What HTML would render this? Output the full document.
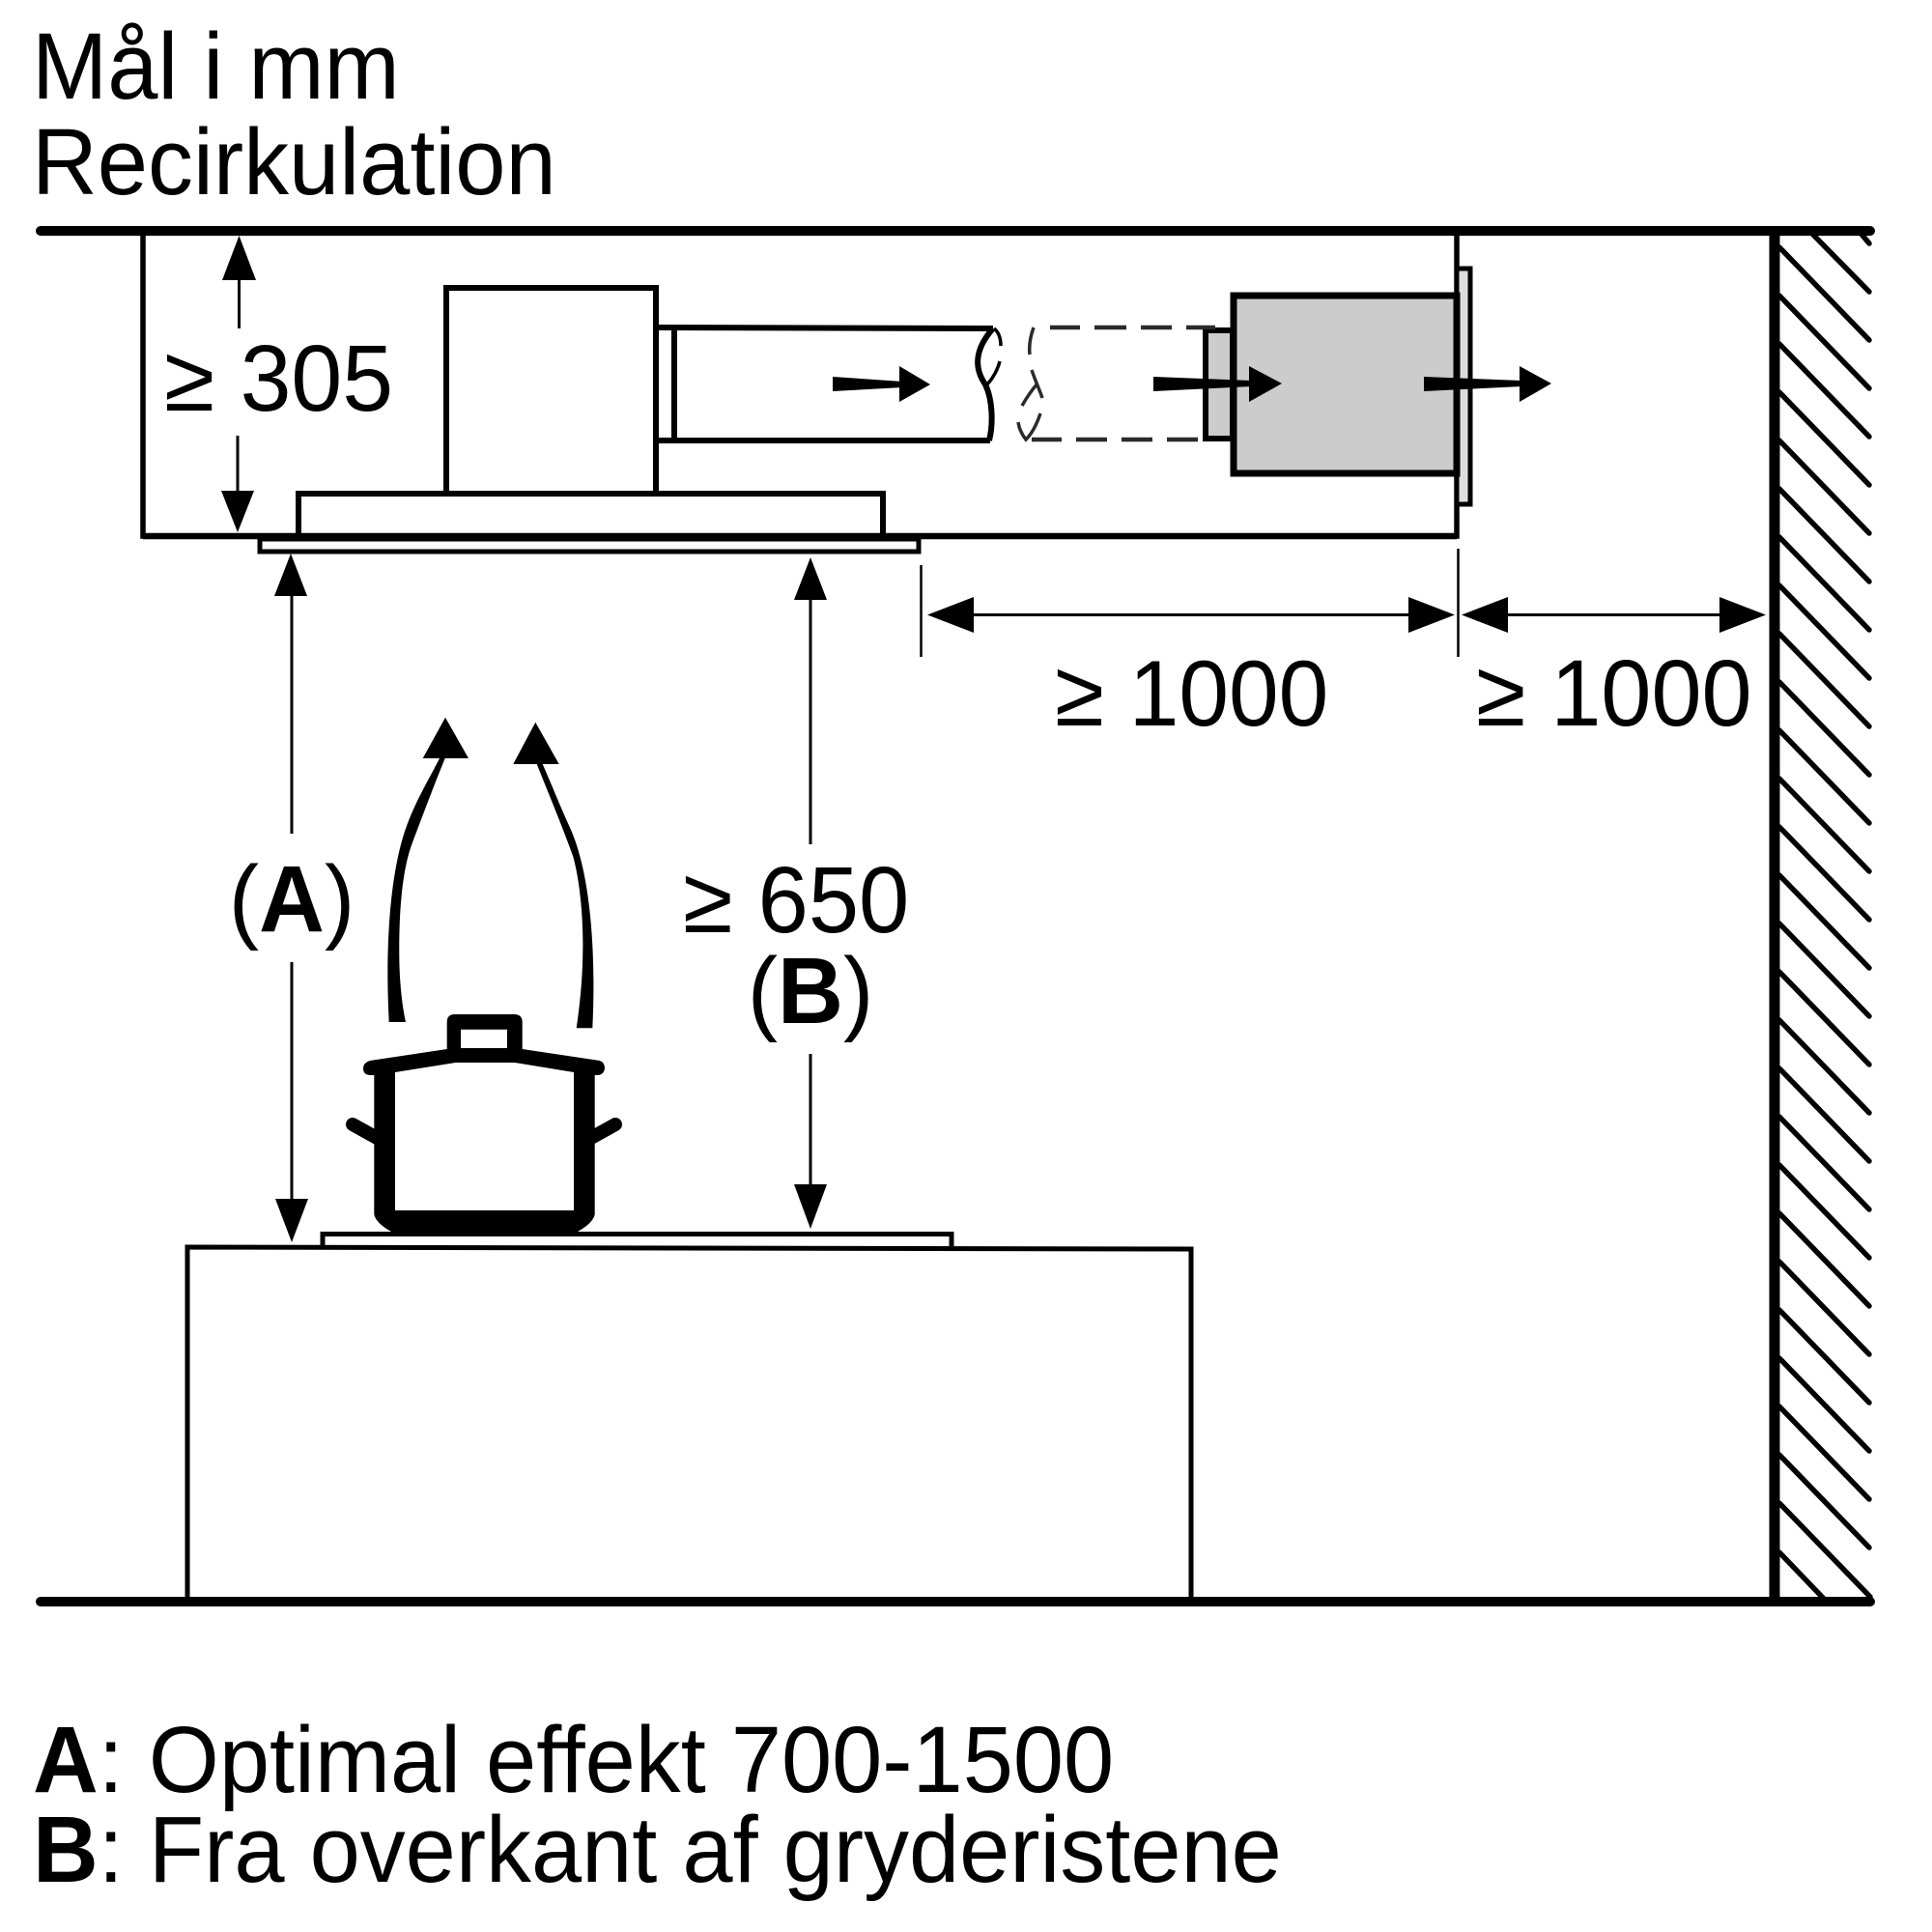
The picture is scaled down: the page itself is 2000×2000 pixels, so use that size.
<!DOCTYPE html>
<html><head><meta charset="utf-8"><style>
html,body{margin:0;padding:0;background:#fff}
svg{display:block}
text{font-family:"Liberation Sans",Arial,sans-serif;font-size:97px;fill:#000}
.b{font-weight:bold}
</style></head><body>
<svg xmlns="http://www.w3.org/2000/svg" width="2000" height="2000" viewBox="0 0 2000 2000">
<rect width="2000" height="2000" fill="#fff"/>
<text transform="translate(33 102) scale(.968 1)">Mål i mm</text>
<text transform="translate(33 201) scale(.968 1)">Recirkulation</text>
<text transform="translate(34 1855) scale(.967 1)"><tspan class="b">A</tspan>: Optimal effekt 700-1500</text>
<text transform="translate(34 1948) scale(.967 1)"><tspan class="b">B</tspan>: Fra overkant af gryderistene</text>
<text transform="translate(170 425) scale(.98 1)">≥ 305</text>
<text transform="translate(1092 751) scale(.957 1)">≥ 1000</text>
<text transform="translate(1528 751) scale(.965 1)">≥ 1000</text>
<text transform="translate(707 965) scale(.968 1)">≥ 650</text>
<text transform="translate(302 964) scale(.97 1)" text-anchor="middle">(<tspan class="b">A</tspan>)</text>
<text transform="translate(839 1059) scale(.97 1)" text-anchor="middle">(<tspan class="b">B</tspan>)</text>

<g fill="none" stroke="#000" stroke-linecap="round">
<path d="M1925 240L1935 252M1877 243L1935 302M1842 256L1935 352M1842 306L1935 402M1842 356L1935 452M1842 406L1935 502M1842 456L1935 552M1842 506L1935 602M1842 556L1935 652M1842 606L1935 702M1842 656L1935 752M1842 706L1935 802M1842 756L1935 852M1842 806L1935 902M1842 856L1935 952M1842 906L1935 1002M1842 956L1935 1052M1842 1006L1935 1102M1842 1056L1935 1152M1842 1106L1935 1202M1842 1156L1935 1252M1842 1206L1935 1302M1842 1256L1935 1352M1842 1306L1935 1402M1842 1356L1935 1452M1842 1406L1935 1502M1842 1456L1935 1552M1842 1506L1935 1602M1842 1556L1936 1653M1842 1607L1888 1655" stroke-width="5.500"/>
<path d="M42 239H1936M42 1658H1936" stroke-width="10"/>
<path d="M1837 239V1658" stroke-width="11" stroke-linecap="butt"/>
</g>

<g fill="none" stroke="#000" stroke-width="5.500" stroke-linejoin="miter">
<path d="M148 242V555H1508V239" />
<path d="M148 555H1508" stroke-width="6.500"/>
<rect x="1508" y="278" width="14" height="244" fill="#ddd" stroke-width="5"/>
<rect x="1248" y="342" width="28" height="112" fill="#ccc" stroke-width="6"/>
<rect x="1277" y="306" width="231" height="184" fill="#ccc" stroke-width="7"/>
<path d="M462 511V298H679V511" stroke-width="6"/>
<rect x="309" y="511" width="605" height="44" stroke-width="6"/>
<rect x="269" y="558" width="682" height="13" stroke-width="5"/>
<path d="M679 339L1028 340M679 456H1025M698 339V456" stroke-width="6"/>
<path d="M1028 340C1012 358 1006 378 1020 398C1028 415 1028 440 1024 456" stroke-width="6"/>
<path d="M1029 340C1034 344 1036 350 1036 358M1035 374C1032 385 1026 394 1020 400" stroke-width="3.500"/>
<g stroke="#2a2a2a" stroke-width="4.500">
<path d="M1087 339H1118M1133 339H1166M1181 339H1213M1228 339H1258M1068 455H1099M1114 455H1146M1161 455H1193M1208 455H1240"/>
<path d="M1070 339C1066 350 1065 358 1066 367M1068 383C1072 395 1076 403 1079 412M1074 397C1067 405 1062 413 1058 420M1077 428C1073 440 1068 449 1062 455C1058 450 1055 444 1054 437" stroke-width="3.500"/>
</g>
<path d="M194 1654V1291L1233 1293V1654" stroke-width="5"/>
<path d="M334 1290V1277.500H985V1290" stroke-width="5"/>
</g>

<g fill="none" stroke="#000" stroke-width="3">
<path d="M247.500 285V340M246 451V512M302 610V863M302 996V1245M839 615V874M839 1091V1230M1000 636.500H1465M1555 636.500H1785"/>
<path d="M1509.500 568V680M953.500 585V680" stroke-width="2.500"/>
</g>

<g fill="#000">
<path d="M247.500 244L265 290H230Z"/>
<path d="M246 551L229 508H263Z"/>
<path d="M301 573L318 617H284Z"/>
<path d="M302 1286L285 1241H319Z"/>
<path d="M839 577L856 621H822Z"/>
<path d="M839 1272L822 1226H856Z"/>
<path d="M960 636.500L1008 618V655Z"/>
<path d="M1506 636.500L1458 618V655Z"/>
<path d="M1513 636.500L1561 618V655Z"/>
<path d="M1828 636.500L1780 618V655Z"/>
<path d="M862 390L935 395V401L862 405Z"/>
<path d="M963 398L931 379V416Z"/>
<path d="M1194 390L1296 394V400L1194 405Z"/>
<path d="M1327 397L1293 379V416Z"/>
<path d="M1474 390L1576 394V400L1474 405Z"/>
<path d="M1606 397L1573 379V416Z"/>

<path d="M402.700 1058C399 990 402 905 421.700 853C432 826 445 805 455 785L460.700 785C452 806 438 843 426.700 873C416 901 413 945 413.300 990C413.500 1015 416 1040 420 1058Z"/>
<path d="M461 742.700L485 785H437.700Z"/>
<path d="M613.300 1064.300C617 990 612 905 590 856.700C580 835 571 812 561.700 791L555.700 791C564 812 582 855 593.300 886.700C601 915 604 955 603.300 985C603 1015 600 1042 596.700 1064.300Z"/>
<path d="M554.300 747.700L578.700 791H531.300Z"/>

<path fill-rule="evenodd" d="M462.700 1086V1058Q462.700 1050 471 1050H532Q540.700 1050 540.700 1058V1086L621 1098Q626 1100 626 1106Q625 1113 618 1113H615.700V1257Q614 1266 598 1275H405Q389 1266 387.300 1257V1113H384Q376 1113 376 1106Q376 1100 383 1098ZM477 1065.700V1085H525V1065.700ZM409 1110V1253H594V1110L533 1100H471.700Z"/>
</g>
<path d="M365 1164L392 1179M637 1164L610 1179" fill="none" stroke="#000" stroke-width="14" stroke-linecap="round"/>
</svg>
</body></html>
